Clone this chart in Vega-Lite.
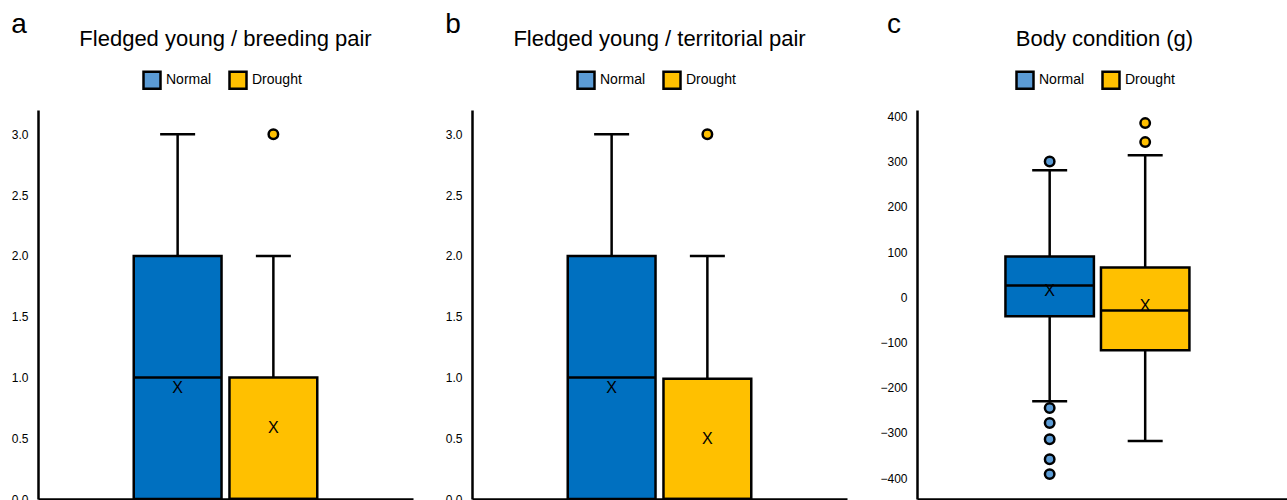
{
  "$schema": "https://vega.github.io/schema/vega-lite/v6.json",
  "padding": {"left": 11, "top": 11, "right": 0, "bottom": 0},
  "config": {
    "font": "Liberation Sans",
    "view": {"stroke": null},
    "concat": {"spacing": 32},
    "title": {"color": "black", "fontWeight": "normal", "font": "Liberation Sans"},
    "axis": {"labelColor": "black", "labelFont": "Liberation Sans"}
  },
  "resolve": {"scale": {"color": "independent"}, "legend": {"color": "independent"}},
  "datasets": {
    "a_box": [
      {"group": "Normal", "lo": 0, "q1": 0, "median": 1, "q3": 2, "hi": 3, "mean": 0.91},
      {"group": "Drought", "lo": 0, "q1": 0, "median": 0, "q3": 1, "hi": 2, "mean": 0.58}
    ],
    "a_out": [
      {"group": "Drought", "value": 3.0}
    ],
    "b_box": [
      {"group": "Normal", "lo": 0, "q1": 0, "median": 1, "q3": 2, "hi": 3, "mean": 0.915},
      {"group": "Drought", "lo": 0, "q1": 0, "median": 0, "q3": 0.99, "hi": 2, "mean": 0.49}
    ],
    "b_out": [
      {"group": "Drought", "value": 3.0}
    ],
    "c_box": [
      {"group": "Normal", "lo": -230, "q1": -42, "median": 26, "q3": 90, "hi": 281, "mean": 13},
      {"group": "Drought", "lo": -318, "q1": -117, "median": -29, "q3": 66, "hi": 314, "mean": -20}
    ],
    "c_out": [
      {"group": "Normal", "value": 300},
      {"group": "Normal", "value": -245},
      {"group": "Normal", "value": -278},
      {"group": "Normal", "value": -314},
      {"group": "Normal", "value": -358},
      {"group": "Normal", "value": -391},
      {"group": "Drought", "value": 385},
      {"group": "Drought", "value": 343}
    ]
  },
  "hconcat": [
    {
      "title": {"text": "a", "anchor": "start", "fontSize": 28, "offset": -11},
      "resolve": {"scale": {"color": "independent"}, "legend": {"color": "independent"}},
      "hconcat": [
        {
          "title": {"text": "Fledged young / breeding pair", "fontSize": 22, "anchor": "middle", "frame": "group", "offset": 19},
          "width": 375,
          "height": 389,
          "layer": [
            {
              "data": {"name": "a_box"},
              "mark": {"type": "rule", "stroke": "black", "strokeWidth": 2.5},
              "encoding": {
                "x": {"field": "group", "type": "nominal", "scale": {"domain": ["Normal", "Drought"], "paddingInner": 0.083, "paddingOuter": 1.0}, "axis": {"labels": false, "ticks": false, "title": null, "domainColor": "black", "domainWidth": 2.5}},
                "y": {"field": "lo", "type": "quantitative", "scale": {"domain": [0, 3.2], "nice": false, "zero": false}, "axis": {"values": [0, 0.5, 1, 1.5, 2, 2.5, 3], "format": ".1f", "grid": false, "ticks": false, "title": null, "domainColor": "black", "domainWidth": 2.5, "labelFontSize": 12, "labelPadding": 10}},
                "y2": {"field": "hi"}
              }
            },
            {
              "data": {"name": "a_box"},
              "mark": {"type": "tick", "color": "black", "thickness": 2.5, "size": 35, "opacity": 1},
              "encoding": {"x": {"field": "group", "type": "nominal"}, "y": {"field": "hi", "type": "quantitative"}}
            },
            {
              "data": {"name": "a_box"},
              "mark": {"type": "tick", "color": "black", "thickness": 2.5, "size": 35, "opacity": 1},
              "encoding": {"x": {"field": "group", "type": "nominal"}, "y": {"field": "lo", "type": "quantitative"}}
            },
            {
              "data": {"name": "a_box"},
              "transform": [{"filter": "datum.group === 'Normal'"}],
              "mark": {"type": "bar", "stroke": "black", "strokeWidth": 2.5, "fill": "#0070C0"},
              "encoding": {"x": {"field": "group", "type": "nominal"}, "y": {"field": "q1", "type": "quantitative"}, "y2": {"field": "q3"}}
            },
            {
              "data": {"name": "a_box"},
              "transform": [{"filter": "datum.group === 'Drought'"}],
              "mark": {"type": "bar", "stroke": "black", "strokeWidth": 2.5, "fill": "#FFC000"},
              "encoding": {"x": {"field": "group", "type": "nominal"}, "y": {"field": "q1", "type": "quantitative"}, "y2": {"field": "q3"}}
            },
            {
              "data": {"name": "a_box"},
              "mark": {"type": "tick", "color": "black", "thickness": 2.5, "size": 88, "opacity": 1},
              "encoding": {"x": {"field": "group", "type": "nominal"}, "y": {"field": "median", "type": "quantitative"}}
            },
            {
              "data": {"name": "a_box"},
              "mark": {"type": "text", "text": "X", "fontSize": 16, "baseline": "middle", "align": "center", "color": "black"},
              "encoding": {"x": {"field": "group", "type": "nominal"}, "y": {"field": "mean", "type": "quantitative"}}
            },
            {
              "data": {"name": "a_out"},
              "mark": {"type": "point", "filled": true, "size": 90, "stroke": "black", "strokeWidth": 2.5, "opacity": 1},
              "encoding": {
                "x": {"field": "group", "type": "nominal"},
                "y": {"field": "value", "type": "quantitative"},
                "color": {"field": "group", "type": "nominal", "scale": {"domain": ["Normal", "Drought"], "range": ["#5B9BD5", "#FFC000"]},
                  "legend": {"orient": "none", "legendX": 104, "legendY": -40, "direction": "horizontal", "title": null, "symbolType": "square", "symbolSize": 289, "symbolStrokeColor": "black", "symbolStrokeWidth": 2.5, "symbolOpacity": 1, "labelFontSize": 14, "labelColor": "black", "labelOffset": 4, "columnPadding": 12}}
              }
            }
          ]
        }
      ]
    },
    {
      "title": {"text": "b", "anchor": "start", "fontSize": 28, "offset": -11},
      "resolve": {"scale": {"color": "independent"}, "legend": {"color": "independent"}},
      "hconcat": [
        {
          "title": {"text": "Fledged young / territorial pair", "fontSize": 22, "anchor": "middle", "frame": "group", "offset": 19},
          "width": 375,
          "height": 389,
          "layer": [
            {
              "data": {"name": "b_box"},
              "mark": {"type": "rule", "stroke": "black", "strokeWidth": 2.5},
              "encoding": {
                "x": {"field": "group", "type": "nominal", "scale": {"domain": ["Normal", "Drought"], "paddingInner": 0.083, "paddingOuter": 1.0}, "axis": {"labels": false, "ticks": false, "title": null, "domainColor": "black", "domainWidth": 2.5}},
                "y": {"field": "lo", "type": "quantitative", "scale": {"domain": [0, 3.2], "nice": false, "zero": false}, "axis": {"values": [0, 0.5, 1, 1.5, 2, 2.5, 3], "format": ".1f", "grid": false, "ticks": false, "title": null, "domainColor": "black", "domainWidth": 2.5, "labelFontSize": 12, "labelPadding": 10}},
                "y2": {"field": "hi"}
              }
            },
            {
              "data": {"name": "b_box"},
              "mark": {"type": "tick", "color": "black", "thickness": 2.5, "size": 35, "opacity": 1},
              "encoding": {"x": {"field": "group", "type": "nominal"}, "y": {"field": "hi", "type": "quantitative"}}
            },
            {
              "data": {"name": "b_box"},
              "mark": {"type": "tick", "color": "black", "thickness": 2.5, "size": 35, "opacity": 1},
              "encoding": {"x": {"field": "group", "type": "nominal"}, "y": {"field": "lo", "type": "quantitative"}}
            },
            {
              "data": {"name": "b_box"},
              "transform": [{"filter": "datum.group === 'Normal'"}],
              "mark": {"type": "bar", "stroke": "black", "strokeWidth": 2.5, "fill": "#0070C0"},
              "encoding": {"x": {"field": "group", "type": "nominal"}, "y": {"field": "q1", "type": "quantitative"}, "y2": {"field": "q3"}}
            },
            {
              "data": {"name": "b_box"},
              "transform": [{"filter": "datum.group === 'Drought'"}],
              "mark": {"type": "bar", "stroke": "black", "strokeWidth": 2.5, "fill": "#FFC000"},
              "encoding": {"x": {"field": "group", "type": "nominal"}, "y": {"field": "q1", "type": "quantitative"}, "y2": {"field": "q3"}}
            },
            {
              "data": {"name": "b_box"},
              "mark": {"type": "tick", "color": "black", "thickness": 2.5, "size": 88, "opacity": 1},
              "encoding": {"x": {"field": "group", "type": "nominal"}, "y": {"field": "median", "type": "quantitative"}}
            },
            {
              "data": {"name": "b_box"},
              "mark": {"type": "text", "text": "X", "fontSize": 16, "baseline": "middle", "align": "center", "color": "black"},
              "encoding": {"x": {"field": "group", "type": "nominal"}, "y": {"field": "mean", "type": "quantitative"}}
            },
            {
              "data": {"name": "b_out"},
              "mark": {"type": "point", "filled": true, "size": 90, "stroke": "black", "strokeWidth": 2.5, "opacity": 1},
              "encoding": {
                "x": {"field": "group", "type": "nominal"},
                "y": {"field": "value", "type": "quantitative"},
                "color": {"field": "group", "type": "nominal", "scale": {"domain": ["Normal", "Drought"], "range": ["#5B9BD5", "#FFC000"]},
                  "legend": {"orient": "none", "legendX": 104, "legendY": -40, "direction": "horizontal", "title": null, "symbolType": "square", "symbolSize": 289, "symbolStrokeColor": "black", "symbolStrokeWidth": 2.5, "symbolOpacity": 1, "labelFontSize": 14, "labelColor": "black", "labelOffset": 4, "columnPadding": 12}}
              }
            }
          ]
        }
      ]
    },
    {
      "title": {"text": "c", "anchor": "start", "fontSize": 28, "offset": -11, "dx": 7},
      "resolve": {"scale": {"color": "independent"}, "legend": {"color": "independent"}},
      "hconcat": [
        {
          "title": {"text": "Body condition (g)", "fontSize": 22, "anchor": "middle", "frame": "group", "offset": 19},
          "width": 375,
          "height": 389,
          "layer": [
            {
              "data": {"name": "c_box"},
              "mark": {"type": "rule", "stroke": "black", "strokeWidth": 2.5},
              "encoding": {
                "x": {"field": "group", "type": "nominal", "scale": {"domain": ["Normal", "Drought"], "paddingInner": 0.074, "paddingOuter": 1.01, "align": 0.463}, "axis": {"labels": false, "ticks": false, "title": null, "domainColor": "black", "domainWidth": 2.5}},
                "y": {"field": "lo", "type": "quantitative", "scale": {"domain": [-446, 414], "nice": false, "zero": false}, "axis": {"values": [-400, -300, -200, -100, 0, 100, 200, 300, 400], "format": "d", "grid": false, "ticks": false, "title": null, "domainColor": "black", "domainWidth": 2.5, "labelFontSize": 12, "labelPadding": 10}},
                "y2": {"field": "hi"}
              }
            },
            {
              "data": {"name": "c_box"},
              "mark": {"type": "tick", "color": "black", "thickness": 2.5, "size": 35, "opacity": 1},
              "encoding": {"x": {"field": "group", "type": "nominal"}, "y": {"field": "hi", "type": "quantitative"}}
            },
            {
              "data": {"name": "c_box"},
              "mark": {"type": "tick", "color": "black", "thickness": 2.5, "size": 35, "opacity": 1},
              "encoding": {"x": {"field": "group", "type": "nominal"}, "y": {"field": "lo", "type": "quantitative"}}
            },
            {
              "data": {"name": "c_box"},
              "transform": [{"filter": "datum.group === 'Normal'"}],
              "mark": {"type": "bar", "stroke": "black", "strokeWidth": 2.5, "fill": "#0070C0"},
              "encoding": {"x": {"field": "group", "type": "nominal"}, "y": {"field": "q1", "type": "quantitative"}, "y2": {"field": "q3"}}
            },
            {
              "data": {"name": "c_box"},
              "transform": [{"filter": "datum.group === 'Drought'"}],
              "mark": {"type": "bar", "stroke": "black", "strokeWidth": 2.5, "fill": "#FFC000"},
              "encoding": {"x": {"field": "group", "type": "nominal"}, "y": {"field": "q1", "type": "quantitative"}, "y2": {"field": "q3"}}
            },
            {
              "data": {"name": "c_box"},
              "mark": {"type": "tick", "color": "black", "thickness": 2.5, "size": 88, "opacity": 1},
              "encoding": {"x": {"field": "group", "type": "nominal"}, "y": {"field": "median", "type": "quantitative"}}
            },
            {
              "data": {"name": "c_box"},
              "mark": {"type": "text", "text": "X", "fontSize": 16, "baseline": "middle", "align": "center", "color": "black"},
              "encoding": {"x": {"field": "group", "type": "nominal"}, "y": {"field": "mean", "type": "quantitative"}}
            },
            {
              "data": {"name": "c_out"},
              "mark": {"type": "point", "filled": true, "size": 90, "stroke": "black", "strokeWidth": 2.5, "opacity": 1},
              "encoding": {
                "x": {"field": "group", "type": "nominal"},
                "y": {"field": "value", "type": "quantitative"},
                "color": {"field": "group", "type": "nominal", "scale": {"domain": ["Normal", "Drought"], "range": ["#5B9BD5", "#FFC000"]},
                  "legend": {"orient": "none", "legendX": 98, "legendY": -40, "direction": "horizontal", "title": null, "symbolType": "square", "symbolSize": 289, "symbolStrokeColor": "black", "symbolStrokeWidth": 2.5, "symbolOpacity": 1, "labelFontSize": 14, "labelColor": "black", "labelOffset": 4, "columnPadding": 12}}
              }
            }
          ]
        }
      ]
    }
  ]
}
